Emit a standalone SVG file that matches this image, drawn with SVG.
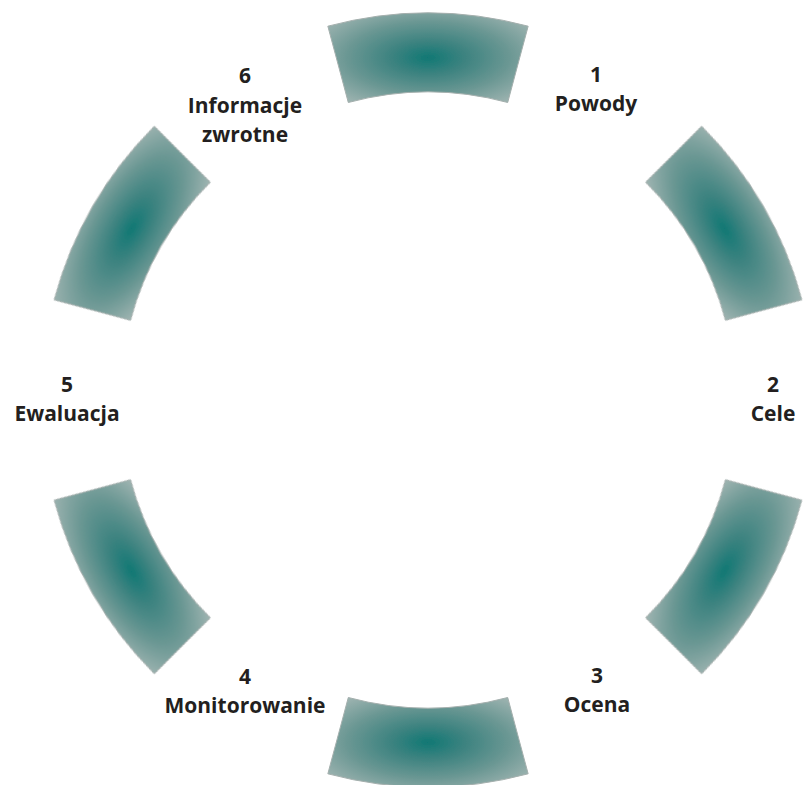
<svg xmlns="http://www.w3.org/2000/svg" width="803" height="785" viewBox="0 0 803 785">
  <defs>
    <radialGradient id="segGrad" cx="0.5" cy="0.5" r="0.62">
      <stop offset="0" stop-color="#117874"/>
      <stop offset="0.3" stop-color="#3d8380"/>
      <stop offset="0.65" stop-color="#6a9793"/>
      <stop offset="1" stop-color="#9bb2af"/>
    </radialGradient>
    <filter id="soft" x="-5%" y="-5%" width="110%" height="110%">
      <feGaussianBlur stdDeviation="0.7"/>
    </filter>
    <path id="seg" d="M 327.837 26.187 A 387 387 0 0 1 528.163 26.187 L 507.716 102.495 A 308 308 0 0 0 348.284 102.495 Z"/>
  </defs>
  <style>
    .seg { fill: url(#segGrad); stroke: #a4afad; stroke-width: 1; filter: url(#soft); }
    .lbl { font-family: "Open Sans", "Liberation Sans", sans-serif; font-weight: bold; font-size: 21px; fill: #231f20; text-anchor: middle; }
  </style>
  <rect width="803" height="785" fill="#ffffff"/>
  <g id="connectors">
    <use href="#seg" class="seg"/>
    <use href="#seg" class="seg" transform="rotate(60 428 400)"/>
    <use href="#seg" class="seg" transform="rotate(120 428 400)"/>
    <use href="#seg" class="seg" transform="rotate(180 428 400)"/>
    <use href="#seg" class="seg" transform="rotate(240 428 400)"/>
    <use href="#seg" class="seg" transform="rotate(300 428 400)"/>
  </g>
  <g id="node1">
    <text class="lbl" x="596" y="82">1</text>
    <text class="lbl" x="596" y="111">Powody</text>
  </g>
  <g id="node2">
    <text class="lbl" x="773" y="392">2</text>
    <text class="lbl" x="773" y="421">Cele</text>
  </g>
  <g id="node3">
    <text class="lbl" x="597" y="683">3</text>
    <text class="lbl" x="597" y="712">Ocena</text>
  </g>
  <g id="node4">
    <text class="lbl" x="245" y="684">4</text>
    <text class="lbl" x="245" y="713">Monitorowanie</text>
  </g>
  <g id="node5">
    <text class="lbl" x="67" y="392">5</text>
    <text class="lbl" x="67" y="421">Ewaluacja</text>
  </g>
  <g id="node6">
    <text class="lbl" x="245" y="83">6</text>
    <text class="lbl" x="245" y="113">Informacje</text>
    <text class="lbl" x="245" y="142">zwrotne</text>
  </g>
</svg>
